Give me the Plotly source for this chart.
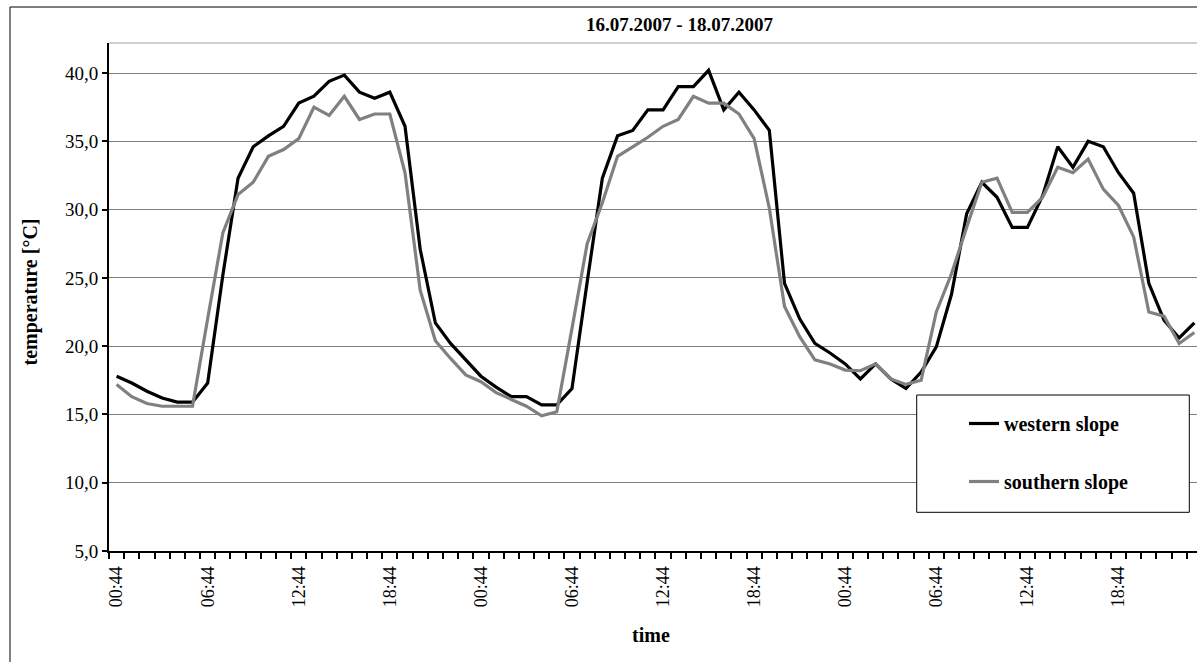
import plotly.graph_objects as go

# ---- data ----
hours = ["00:44", "01:44", "02:44", "03:44", "04:44", "05:44", "06:44", "07:44",
         "08:44", "09:44", "10:44", "11:44", "12:44", "13:44", "14:44", "15:44",
         "16:44", "17:44", "18:44", "19:44", "20:44", "21:44", "22:44", "23:44"]
days = ["16.07.2007", "17.07.2007", "18.07.2007"]
times = [d + " " + h for d in days for h in hours]

western = [17.8, 17.3, 16.7, 16.2, 15.9, 15.9, 17.3, 25.2, 32.3, 34.6, 35.4, 36.1,
           37.8, 38.3, 39.4, 39.85, 38.6, 38.15, 38.6, 36.1, 27.1, 21.7, 20.2, 19.0,
           17.8, 17.0, 16.3, 16.3, 15.7, 15.7, 16.9, 24.7, 32.3, 35.4, 35.8, 37.3,
           37.3, 39.0, 39.0, 40.2, 37.3, 38.6, 37.3, 35.8, 24.6, 22.0, 20.2, 19.5,
           18.7, 17.6, 18.7, 17.6, 16.9, 18.1, 19.95, 23.8, 29.7, 32.0, 30.9, 28.7,
           28.7, 31.0, 34.6, 33.1, 35.0, 34.6, 32.7, 31.2, 24.6, 21.9, 20.6, 21.7]
southern = [17.2, 16.3, 15.8, 15.6, 15.6, 15.6, 22.0, 28.3, 31.1, 32.0, 33.9, 34.4,
            35.2, 37.5, 36.9, 38.3, 36.6, 37.0, 37.0, 32.7, 24.1, 20.4, 19.1, 17.9,
            17.4, 16.6, 16.1, 15.6, 14.9, 15.2, 21.3, 27.5, 30.5, 33.9, 34.6, 35.3,
            36.1, 36.6, 38.3, 37.8, 37.8, 37.0, 35.2, 30.1, 22.9, 20.7, 19.0, 18.7,
            18.25, 18.2, 18.7, 17.6, 17.2, 17.5, 22.5, 25.3, 28.7, 32.0, 32.3, 29.8,
            29.8, 30.9, 33.1, 32.7, 33.7, 31.5, 30.3, 28.0, 22.5, 22.2, 20.2, 21.0]

label_hours = ["00:44", "06:44", "12:44", "18:44"]
y_ticks = [5, 10, 15, 20, 25, 30, 35, 40]
y_ticktext = ["5,0", "10,0", "15,0", "20,0", "25,0", "30,0", "35,0", "40,0"]

# ---- layout geometry (pixels) ----
W, H = 1197, 662
L, R, T, B = 109, 0, 43, 111
PW, PH = W - L - R, H - T - B


def px_x(x):
    return (x - L) / PW


def px_y(y):
    return (H - B - y) / PH


xidx = list(range(len(times)))
tickvals = [i for i, t in enumerate(times) if t.split(" ")[1] in label_hours]
ticktext = [times[i].split(" ")[1] for i in tickvals]

FONT = "Liberation Serif, Times New Roman, serif"

fig = go.Figure()
fig.add_trace(go.Scatter(x=xidx, y=western, mode="lines", name="western slope",
                         legendgroup="w", line=dict(color="#000000", width=3.2)))
fig.add_trace(go.Scatter(x=xidx, y=southern, mode="lines", name="southern slope",
                         legendgroup="s", line=dict(color="#808080", width=3.2)))

fig.update_layout(
    width=W, height=H,
    margin=dict(l=L, r=R, t=T, b=B, autoexpand=False),
    paper_bgcolor="white", plot_bgcolor="white",
    font=dict(family=FONT, color="black"),
    title=dict(text="16.07.2007 - 18.07.2007", xref="container", yref="container",
               x=679.5 / W, y=1 - 24 / H, xanchor="center", yanchor="middle",
               font=dict(family=FONT, size=19, weight="bold", color="black")),
    showlegend=True,
    legend=dict(x=px_x(964), y=px_y(404), xanchor="left", yanchor="top",
                bgcolor="rgba(0,0,0,0)", borderwidth=0, traceorder="grouped",
                tracegroupgap=29,
                font=dict(family=FONT, size=20, weight="bold", color="black")),
    xaxis=dict(range=[-0.5, -0.5 + PW / 15.18], tickmode="array",
               tickvals=tickvals, ticktext=ticktext, tickangle=-90,
               ticks="outside", ticklen=6, tickcolor="rgba(0,0,0,0)",
               tickfont=dict(family=FONT, size=18, color="black"),
               showline=True, linecolor="black", linewidth=2,
               showgrid=False, zeroline=False,
               minor=dict(tickmode="linear", tick0=-0.5, dtick=1, ticks="outside",
                          ticklen=6, tickwidth=1.5, tickcolor="black",
                          showgrid=False)),
    yaxis=dict(range=[5, 42.2], tickmode="array", tickvals=y_ticks,
               ticktext=y_ticktext, ticks="outside", ticklen=5, tickwidth=2,
               tickcolor="black",
               tickfont=dict(family=FONT, size=19, color="black"),
               showline=True, linecolor="black", linewidth=2,
               showgrid=True, gridcolor="#808080", gridwidth=1, zeroline=False),
    shapes=[
        # outer chart border (cropped on the right and bottom)
        dict(type="rect", xref="paper", yref="paper", x0=px_x(10), x1=px_x(1260),
             y0=px_y(720), y1=px_y(7), line=dict(color="black", width=1),
             fillcolor="rgba(0,0,0,0)", layer="below"),
        # plot area top border
        dict(type="line", xref="paper", yref="paper", x0=0, x1=1.02, y0=1, y1=1,
             line=dict(color="#a0a0a0", width=1)),
        # legend box
        dict(type="rect", xref="paper", yref="paper", x0=px_x(916.7), x1=px_x(1189.3),
             y0=px_y(512.3), y1=px_y(395), line=dict(color="black", width=1),
             fillcolor="white", layer="above"),
    ],
    annotations=[
        dict(text="temperature [°C]", xref="paper", yref="paper", x=px_x(30),
             y=px_y(292.5), xanchor="center", yanchor="middle", textangle=-90,
             showarrow=False, font=dict(family=FONT, size=20, weight="bold")),
        dict(text="time", xref="paper", yref="paper", x=px_x(651), y=px_y(635),
             xanchor="center", yanchor="middle", showarrow=False,
             font=dict(family=FONT, size=20, weight="bold")),
    ],
)

fig.write_html("out.html",
               config={"displayModeBar": False},
               post_script="document.body.style.margin='0';"
                           "document.body.style.overflow='hidden';")
